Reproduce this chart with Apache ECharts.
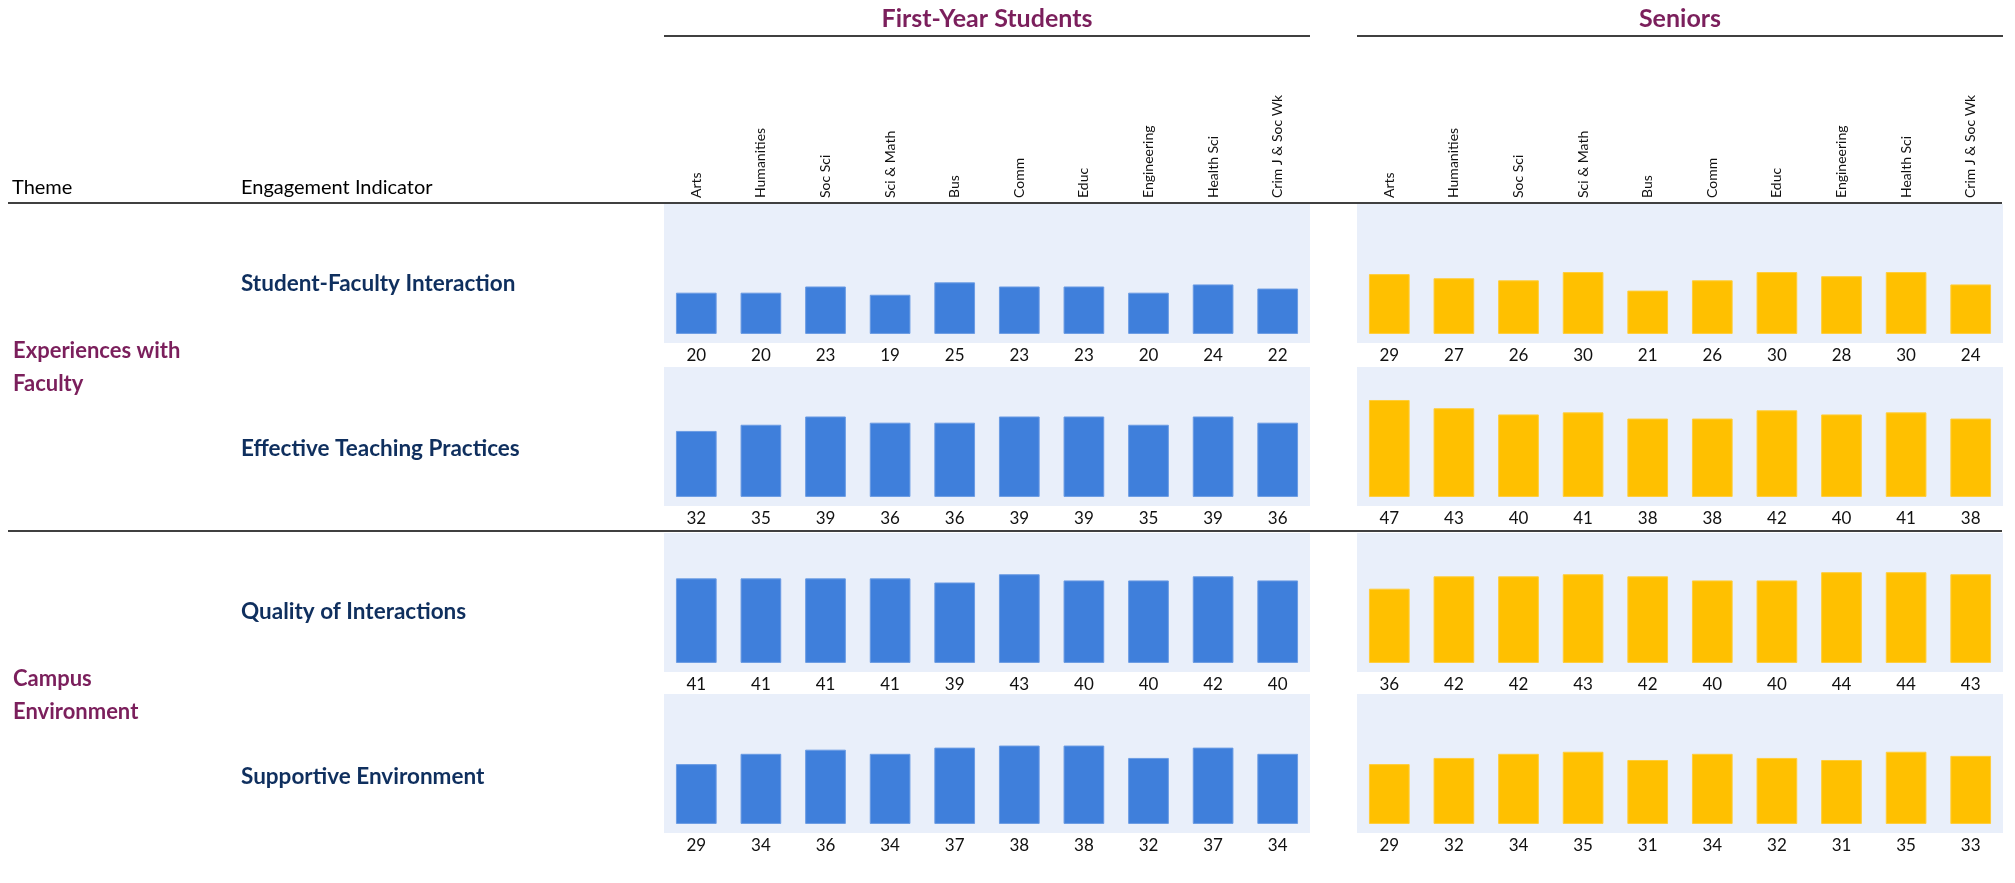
<!DOCTYPE html>
<html>
<head>
<meta charset="utf-8">
<title>Engagement Indicators by Major</title>
<script src="https://cdn.jsdelivr.net/npm/echarts@6/dist/echarts.min.js"></script>
<style>
  html, body { margin: 0; padding: 0; background: #fff; }
  #main { width: 2015px; height: 883px; }
</style>
</head>
<body>
<div id="main"></div>
<script>
var categories = ['Arts', 'Humanities', 'Soc Sci', 'Sci & Math', 'Bus', 'Comm', 'Educ', 'Engineering', 'Health Sci', 'Crim J & Soc Wk'];
var groups = ['First-Year Students', 'Seniors'];
var themes = ['Experiences with\nFaculty', 'Campus\nEnvironment'];
var indicators = ['Student-Faculty Interaction', 'Effective Teaching Practices', 'Quality of Interactions', 'Supportive Environment'];

// first-year students
var fySFI = [20, 20, 23, 19, 25, 23, 23, 20, 24, 22];
var fyETP = [32, 35, 39, 36, 36, 39, 39, 35, 39, 36];
var fyQI  = [41, 41, 41, 41, 39, 43, 40, 40, 42, 40];
var fySE  = [29, 34, 36, 34, 37, 38, 38, 32, 37, 34];

// seniors
var srSFI = [29, 27, 26, 30, 21, 26, 30, 28, 30, 24];
var srETP = [47, 43, 40, 41, 38, 38, 42, 40, 41, 38];
var srQI  = [36, 42, 42, 43, 42, 40, 40, 44, 44, 43];
var srSE  = [29, 32, 34, 35, 31, 34, 32, 31, 35, 33];

var rows = [[fySFI, fyETP, fyQI, fySE], [srSFI, srETP, srQI, srSE]];
var barColors = ['#3F7FDB', '#FFC000'];
var barBorders = ['#6A9BE3', '#FFCD3A'];

var colLeft = [664, 1357];
var colWidth = 646;
var rowTop = [204, 367, 533, 694];
var rowHeight = 139;

var purple = '#7B1F5C';
var navy = '#0F2F5E';
var font = 'Lato';

var grids = [], xAxes = [], yAxes = [], series = [];
for (var c = 0; c < 2; c++) {
    for (var r = 0; r < 4; r++) {
        var i = grids.length;
        grids.push({
            left: colLeft[c], top: rowTop[r], width: colWidth, height: rowHeight,
            show: true, backgroundColor: '#E9EFFA', borderWidth: 0
        });
        xAxes.push({
            type: 'category', gridIndex: i, data: categories, position: 'top',
            axisLine: {show: false}, axisTick: {show: false}, splitLine: {show: false},
            axisLabel: {
                show: r === 0, interval: 0, rotate: 90, margin: 6,
                fontSize: 14, fontFamily: font, color: '#111'
            }
        });
        yAxes.push({type: 'value', gridIndex: i, min: -4.4, max: 63, show: false});
        series.push({
            type: 'bar', xAxisIndex: i, yAxisIndex: i,
            data: rows[c][r], barWidth: '63%', silent: true,
            itemStyle: {color: barColors[c], borderColor: barBorders[c], borderWidth: 1},
            label: {
                show: true, position: 'bottom', distance: 13,
                fontSize: 17, fontFamily: font, color: '#111'
            }
        });
    }
}

var graphic = [];
function hline(x1, x2, y) {
    graphic.push({type: 'line', shape: {x1: x1, y1: y, x2: x2, y2: y}, style: {stroke: '#000', lineWidth: 1.5}, silent: true});
}
function label(text, x, y, f, color, align, lh) {
    graphic.push({type: 'text', x: x, y: y, silent: true,
        style: {text: text, font: f, fill: color, align: align || 'left', verticalAlign: 'middle', lineHeight: lh}});
}

// group titles with rules underneath
for (var g = 0; g < 2; g++) {
    label(groups[g], colLeft[g] + colWidth / 2, 19, 'bold 25px ' + font, purple, 'center');
    hline(colLeft[g], colLeft[g] + colWidth, 36);
}
hline(8, 2002, 203);
hline(8, 2002, 531);

label('Theme', 12, 188, '20px ' + font, '#000');
label('Engagement Indicator', 241, 188, '20px ' + font, '#000');

var rowLabelY = [284, 449, 612, 777];
for (var k = 0; k < indicators.length; k++) {
    label(indicators[k], 241, rowLabelY[k], 'bold 22.5px ' + font, navy);
}
label(themes[0], 13, 367, 'bold 22px ' + font, purple, 'left', 33);
label(themes[1], 13, 695, 'bold 22px ' + font, purple, 'left', 33);

var chart = echarts.init(document.getElementById('main'));
chart.setOption({
    animation: false,
    grid: grids,
    xAxis: xAxes,
    yAxis: yAxes,
    series: series,
    graphic: graphic
});
</script>
</body>
</html>
